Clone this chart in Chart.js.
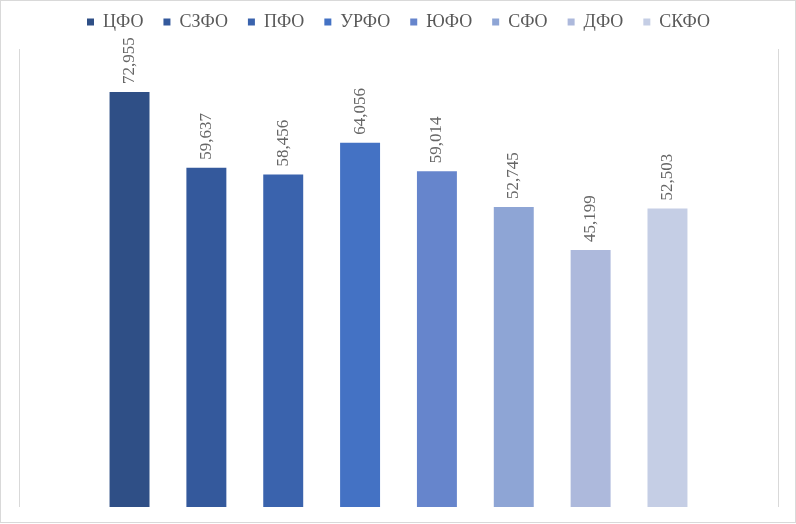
<!DOCTYPE html>
<html>
<head>
<meta charset="utf-8">
<script src="https://cdn.jsdelivr.net/npm/chart.js@4/dist/chart.umd.min.js"></script>
<style>
  html, body { margin: 0; padding: 0; background: #ffffff; }
  #wrap { width: 796px; height: 524px; position: relative; }
</style>
</head>
<body>
<div id="wrap"><canvas id="c" width="796" height="524"></canvas></div>
<script>
const categories = [''];
const seriesNames = ['ЦФО', 'СЗФО', 'ПФО', 'УРФО', 'ЮФО', 'СФО', 'ДФО', 'СКФО'];
const seriesValues = [72.955, 59.637, 58.456, 64.056, 59.014, 52.745, 45.199, 52.503];
const valueLabels = ['72,955', '59,637', '58,456', '64,056', '59,014', '52,745', '45,199', '52,503'];
const seriesColors = ['#2f4f86', '#34599c', '#3a63ad', '#4472c4', '#6685cc', '#8ea5d5', '#adb9dc', '#c5cee5'];

const datasets = seriesNames.map((name, i) => ({
  label: name,
  data: [seriesValues[i]],
  backgroundColor: seriesColors[i],
  borderWidth: 0,
  categoryPercentage: 0.81,
  barPercentage: 0.52
}));

const decor = {
  id: 'decor',
  afterInit(chart) {
    const lg = chart.legend;
    if (lg) {
      const origFit = lg.fit;
      lg.fit = function () { origFit.call(this); this.height += 4; };
      const origDraw = lg.draw;
      lg.draw = function () {
        const ctx = this.ctx;
        ctx.save();
        ctx.translate(0, -7);
        origDraw.call(this);
        ctx.restore();
      };
    }
  },
  beforeDraw(chart) {
    const ctx = chart.ctx;
    ctx.save();
    ctx.strokeStyle = '#d9d9d9';
    ctx.lineWidth = 1;
    ctx.strokeRect(0.5, 0.5, chart.width - 1, chart.height - 2);
    const a = chart.chartArea;
    ctx.beginPath();
    ctx.moveTo(Math.round(a.left) + 0.5, a.top - 3);
    ctx.lineTo(Math.round(a.left) + 0.5, a.bottom);
    ctx.moveTo(Math.round(a.right) + 0.5, a.top - 3);
    ctx.lineTo(Math.round(a.right) + 0.5, a.bottom);
    ctx.stroke();
    ctx.restore();
  },
  afterDatasetsDraw(chart) {
    const ctx = chart.ctx;
    ctx.save();
    ctx.fillStyle = '#666666';
    ctx.font = '17px "Liberation Serif", "Times New Roman", serif';
    ctx.textAlign = 'left';
    ctx.textBaseline = 'middle';
    chart.data.datasets.forEach((ds, i) => {
      const meta = chart.getDatasetMeta(i);
      meta.data.forEach((el) => {
        ctx.save();
        ctx.translate(el.x, el.y - 8);
        ctx.rotate(-Math.PI / 2);
        ctx.fillText(valueLabels[i], 0, 0);
        ctx.restore();
      });
    });
    ctx.restore();
  }
};

new Chart(document.getElementById('c'), {
  type: 'bar',
  data: { labels: categories, datasets: datasets },
  options: {
    responsive: false,
    animation: false,
    devicePixelRatio: 1,
    layout: { padding: { top: 0, left: 19, right: 18, bottom: 17 } },
    plugins: {
      legend: {
        position: 'top',
        labels: {
          boxWidth: 7,
          boxHeight: 7,
          padding: 20,
          color: '#595959',
          font: { family: '"Liberation Serif", "Times New Roman", serif', size: 18 }
        }
      },
      tooltip: { enabled: false }
    },
    scales: {
      x: { display: false },
      y: { display: false, min: 0, max: 80 }
    }
  },
  plugins: [decor]
});
</script>
</body>
</html>
